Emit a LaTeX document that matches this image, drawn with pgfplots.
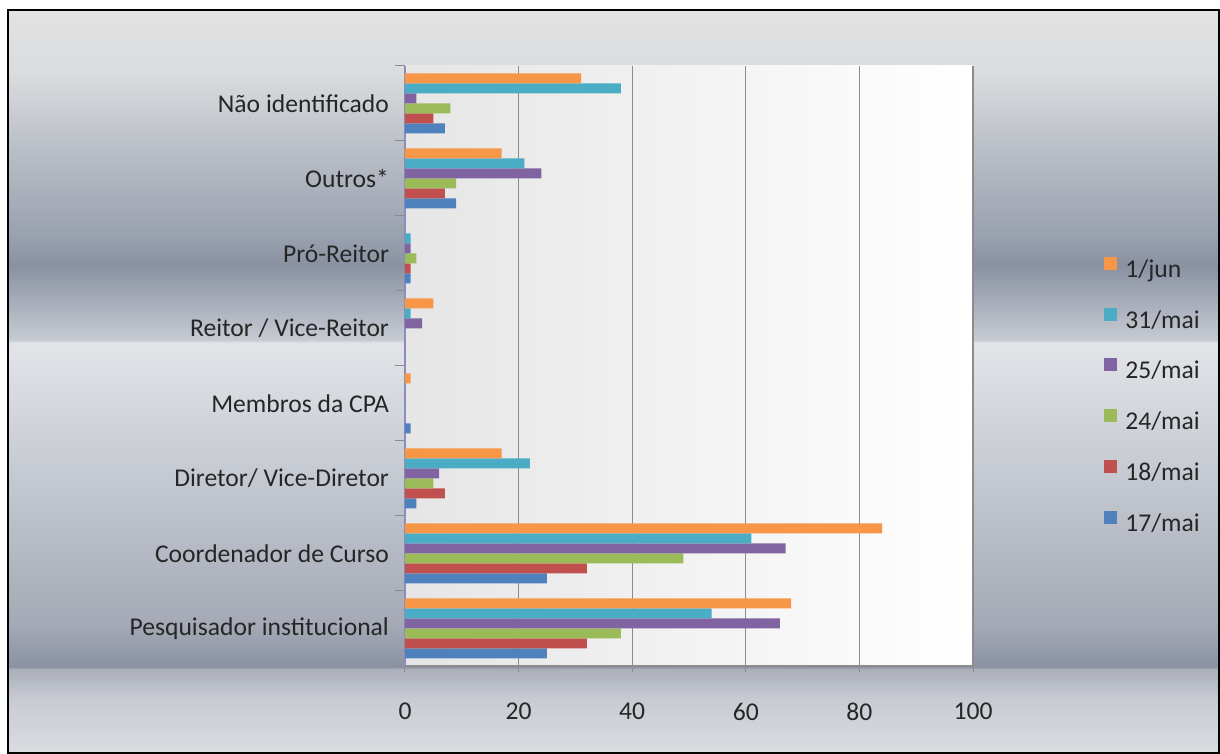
\documentclass[border=0pt]{standalone}
\usepackage{pgfplots}
\pgfplotsset{compat=1.18}
\usepackage{fontspec}
\setmainfont{Carlito}
\definecolor{c17}{HTML}{4F81BD}
\definecolor{c18}{HTML}{C0504D}
\definecolor{c24}{HTML}{9BBB59}
\definecolor{c25}{HTML}{8064A2}
\definecolor{c31}{HTML}{4BACC6}
\definecolor{c01}{HTML}{F79646}
\definecolor{b0}{HTML}{DADCE0}
\definecolor{b1}{HTML}{C8CBD2}
\definecolor{b2}{HTML}{ABAFB9}
\definecolor{b3}{HTML}{8A92A2}
\definecolor{b4}{HTML}{A4A9B5}
\definecolor{b5}{HTML}{C4C8D0}
\definecolor{b6}{HTML}{E2E4E8}
\definecolor{b7}{HTML}{C6CAD2}
\definecolor{b8}{HTML}{8A92A2}
\definecolor{b9}{HTML}{9AA1AF}
\definecolor{b10}{HTML}{BCC0C8}
\definecolor{b11}{HTML}{DADCDE}
\definecolor{b12}{HTML}{E2E2E2}
\definecolor{axblue}{HTML}{8C8CC0}
\definecolor{gridc}{HTML}{8C8C8C}
\pgfdeclareverticalshading{bgshade}{100bp}{color(0bp)=(b0); color(25bp)=(b0); color(28.6bp)=(b1); color(30.65bp)=(b2); color(30.8bp)=(b3); color(33.6bp)=(b4); color(43.4bp)=(b5); color(52.6bp)=(b6); color(52.8bp)=(b7); color(57.8bp)=(b8); color(59.9bp)=(b9); color(66bp)=(b10); color(70.8bp)=(b11); color(75bp)=(b12); color(100bp)=(b12)}
\newcommand{\lblfont}{\fontsize{12.8}{15}\selectfont}
\begin{document}
\begin{tikzpicture}[x=1pt,y=1pt]
\useasboundingbox (-202.5,-44) rectangle (407.5,333);
\fill[white] (-202.5,-44) rectangle (407.5,333);
\shade[shading=bgshade] (-198.5,-43.5) rectangle (407,328);
\draw[black, line width=1pt] (-198.5,-43.5) rectangle (407,328);
\begin{axis}[
  at={(0,0)}, anchor=south west,
  scale only axis, width=284pt, height=300pt,
  xbar=0pt, bar width=5pt,
  xmin=0, xmax=100, ymin=-0.5, ymax=7.5,
  enlargelimits=false,
  xtick={0,20,...,100},
  ytick={0,...,7},
  yticklabels={Pesquisador institucional, Coordenador de Curso, Diretor/ Vice-Diretor, Membros da CPA, Reitor / Vice-Reitor, Pró-Reitor, Outros*, Não identificado},
  minor ytick={-0.5,0.5,...,7.5},
  axis x line*=bottom, axis y line*=left,
  x axis line style={draw=gridc, line width=0.6pt, -},
  y axis line style={draw=axblue, line width=0.8pt, -},
  tick align=outside,
  major tick length=3pt, minor tick length=5pt,
  major x tick style={draw=gridc, line width=0.5pt},
  major y tick style={draw=none},
  minor y tick style={draw=gridc, line width=0.5pt},
  xmajorgrids, grid style={draw=gridc, line width=0.6pt},
  axis background/.style={left color=black!10, right color=white},
  tick label style={font=\lblfont, text=black!85},
  /pgf/number format/assume math mode=true,
  xticklabel style={yshift=-12pt},
  yticklabel style={xshift=-1.5pt},
  reverse legend,
  legend cell align=left,
  legend image code/.code={\fill[#1] (0pt,0.75pt) rectangle (6.5pt,7.25pt);},
  legend style={at={(1.2306,0.448)}, anchor=west, draw=none, fill=none,
    font=\lblfont, text=black!85, row sep=12.2pt, column sep=4pt, inner sep=0pt,
    nodes={inner sep=0pt, text height=9pt, text depth=3pt}},
]
\addplot[fill=c17, draw=none] coordinates {(25,0) (25,1) (2,2) (1,3) (0,4) (1,5) (9,6) (7,7)};
\addplot[fill=c18, draw=none] coordinates {(32,0) (32,1) (7,2) (0,3) (0,4) (1,5) (7,6) (5,7)};
\addplot[fill=c24, draw=none] coordinates {(38,0) (49,1) (5,2) (0,3) (0,4) (2,5) (9,6) (8,7)};
\addplot[fill=c25, draw=none] coordinates {(66,0) (67,1) (6,2) (0,3) (3,4) (1,5) (24,6) (2,7)};
\addplot[fill=c31, draw=none] coordinates {(54,0) (61,1) (22,2) (0,3) (1,4) (1,5) (21,6) (38,7)};
\addplot[fill=c01, draw=none] coordinates {(68,0) (84,1) (17,2) (1,3) (5,4) (0,5) (17,6) (31,7)};
\legend{17/mai,18/mai,24/mai,25/mai,31/mai,1/jun}
\end{axis}
\end{tikzpicture}
\end{document}
